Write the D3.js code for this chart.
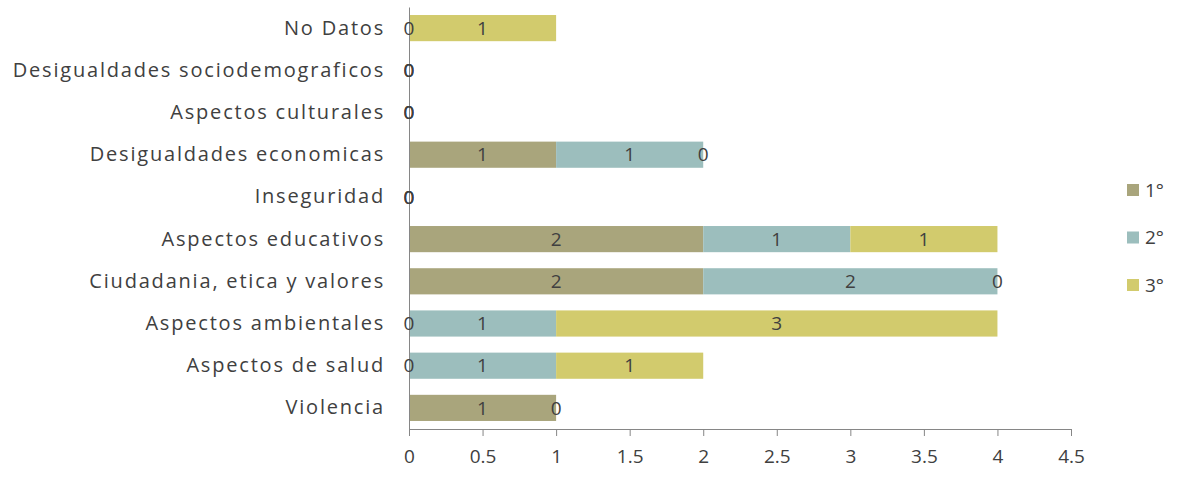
<!DOCTYPE html>
<html>
<head>
<meta charset="utf-8">
<script src="https://cdn.jsdelivr.net/npm/d3@7"></script>
<style>
  body { margin: 0; background: #fff; }
  svg text { font-family: "Open Sans", "Liberation Sans", sans-serif; fill: #404040; }
  .axis path, .axis line { stroke: #868686; }
</style>
</head>
<body>
<div id="bar-chart"></div>
<script>
// Categories, top to bottom
var categories = [
  "No Datos",
  "Desigualdades sociodemograficos",
  "Aspectos culturales",
  "Desigualdades economicas",
  "Inseguridad",
  "Aspectos educativos",
  "Ciudadania, etica y valores",
  "Aspectos ambientales",
  "Aspectos de salud",
  "Violencia"
];

var seriesNames = ["1°", "2°", "3°"];

// null = no value in the sheet (no label drawn)
var first  = [0, 0, 0, 1, 0, 2, 2, 0, 0, 1];
var second = [null, 0, 0, 1, 0, 1, 2, 1, 1, 0];
var third  = [1, 0, 0, 0, 0, 1, 0, 3, 1, null];

var xTicks = [0, 0.5, 1, 1.5, 2, 2.5, 3, 3.5, 4, 4.5];

var COLORS = ["#a9a57c", "#9cbebd", "#d2cb6d"];

var render = function() {
  var width = 1183;
  var height = 495;
  var margins = { top: 7, right: 112, bottom: 66, left: 409 };
  var chartWidth = width - margins.left - margins.right;
  var chartHeight = height - margins.top - margins.bottom;

  var container = d3.select("#bar-chart");
  container.html("");

  var svg = container.append("svg")
    .attr("width", width)
    .attr("height", height);

  var chartElement = svg.append("g")
    .attr("transform", "translate(" + margins.left + "," + margins.top + ")");

  var xScale = d3.scaleLinear()
    .domain([0, 4.5])
    .range([0, chartWidth]);

  var yScale = d3.scaleBand()
    .domain(categories)
    .range([0, chartHeight])
    .paddingInner(0.38)
    .paddingOuter(0.19);

  var seriesValues = [first, second, third];

  // stack by hand so nulls stay nulls
  var segments = [];
  categories.forEach(function(c, i) {
    var x0 = 0;
    seriesValues.forEach(function(vals, s) {
      var v = vals[i];
      if (v == null) return;
      segments.push({ cat: c, series: s, x0: x0, x1: x0 + v, value: v });
      x0 += v;
    });
  });

  // bars
  chartElement.append("g")
    .attr("class", "bars")
    .selectAll("rect")
    .data(segments.filter(function(d) { return d.value > 0; }))
    .enter()
    .append("rect")
    .attr("x", function(d) { return xScale(d.x0); })
    .attr("y", function(d) { return yScale(d.cat); })
    .attr("width", function(d) { return xScale(d.x1) - xScale(d.x0); })
    .attr("height", yScale.bandwidth())
    .attr("fill", function(d) { return COLORS[d.series]; });

  // x axis
  var xAxis = d3.axisBottom(xScale)
    .tickValues(xTicks)
    .tickSize(7)
    .tickSizeOuter(0)
    .tickPadding(14)
    .tickFormat(function(d) { return String(d); });

  var xAxisG = chartElement.append("g")
    .attr("class", "x axis")
    .attr("transform", "translate(0," + chartHeight + ")")
    .call(xAxis);
  xAxisG.selectAll("text").style("font-size", "19px");

  // y axis (line only, labels to the left)
  var yAxis = d3.axisLeft(yScale)
    .tickSize(0)
    .tickSizeOuter(0)
    .tickPadding(24);

  var yAxisG = chartElement.append("g")
    .attr("class", "y axis")
    .call(yAxis);
  yAxisG.selectAll("text")
    .style("font-size", "20px")
    .attr("letter-spacing", "1.8px");

  // values
  chartElement.append("g")
    .attr("class", "value")
    .selectAll("text")
    .data(segments)
    .enter()
    .append("text")
    .attr("x", function(d) { return xScale((d.x0 + d.x1) / 2); })
    .attr("y", function(d) { return yScale(d.cat) + yScale.bandwidth() / 2; })
    .attr("dy", "0.35em")
    .attr("text-anchor", "middle")
    .style("font-size", "19px")
    .text(function(d) { return d.value; });

  // legend
  var legend = svg.append("g")
    .attr("class", "legend")
    .selectAll("g")
    .data(seriesNames)
    .enter()
    .append("g")
    .attr("transform", function(d, i) { return "translate(1127," + (190 + i * 47.5) + ")"; });

  legend.append("rect")
    .attr("x", 0)
    .attr("y", -6)
    .attr("width", 12)
    .attr("height", 12)
    .attr("fill", function(d, i) { return COLORS[i]; });

  legend.append("text")
    .attr("x", 18)
    .attr("dy", "0.35em")
    .style("font-size", "19px")
    .text(function(d) { return d; });
};

window.onload = render;
</script>
</body>
</html>
